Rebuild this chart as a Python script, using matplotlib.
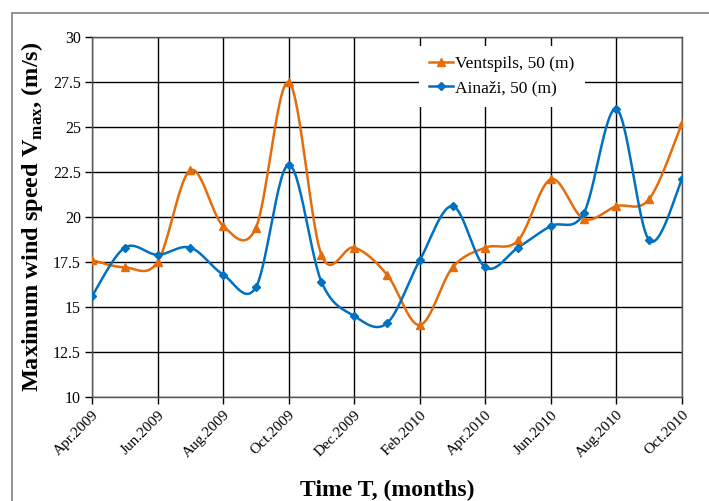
import numpy as np
import matplotlib.pyplot as plt
from matplotlib.patches import Rectangle

plt.rcParams['font.family'] = ['Liberation Serif', 'DejaVu Serif']
plt.rcParams['mathtext.fontset'] = 'custom'
plt.rcParams['mathtext.rm'] = 'Liberation Serif'
plt.rcParams['mathtext.bf'] = 'Liberation Serif:bold'

months = ['Apr.2009', 'May.2009', 'Jun.2009', 'Jul.2009', 'Aug.2009', 'Sep.2009',
          'Oct.2009', 'Nov.2009', 'Dec.2009', 'Jan.2010', 'Feb.2010', 'Mar.2010',
          'Apr.2010', 'May.2010', 'Jun.2010', 'Jul.2010', 'Aug.2010', 'Sep.2010',
          'Oct.2010']
ventspils = [17.6, 17.2, 17.5, 22.6, 19.5, 19.4, 27.5, 17.9, 18.3, 16.8,
             14.0, 17.2, 18.3, 18.7, 22.1, 19.9, 20.6, 21.0, 25.2]
ainazi = [15.6, 18.3, 17.9, 18.3, 16.8, 16.1, 22.9, 16.4, 14.5, 14.1,
          17.6, 20.6, 17.2, 18.3, 19.5, 20.2, 26.0, 18.7, 22.1]


def smooth(x, y, n=30):
    # excel style smoothed line: bezier segments with catmull-rom control points
    x = np.asarray(x, float)
    y = np.asarray(y, float)
    px = np.concatenate([[x[0]], x, [x[-1]]])
    py = np.concatenate([[y[0]], y, [y[-1]]])
    t = np.linspace(0, 1, n)[:, None]
    xs, ys = [], []
    for i in range(1, len(px) - 2):
        p0 = np.array([px[i], py[i]])
        p3 = np.array([px[i + 1], py[i + 1]])
        c1 = p0 + (p3 - np.array([px[i - 1], py[i - 1]])) / 6
        c2 = p3 - (np.array([px[i + 2], py[i + 2]]) - p0) / 6
        b = (1 - t) ** 3 * p0 + 3 * (1 - t) ** 2 * t * c1 + 3 * (1 - t) * t ** 2 * c2 + t ** 3 * p3
        xs.append(b[:, 0])
        ys.append(b[:, 1])
    return np.concatenate(xs), np.concatenate(ys)


fig = plt.figure(figsize=(7.09, 5.01), dpi=100)
fig.patches.append(Rectangle((12 / 709, -0.1), 1.2, 1 - 13 / 501 + 0.1, transform=fig.transFigure,
                             fill=False, edgecolor='#7f7f7f', linewidth=1.2))
ax = fig.add_axes([92 / 709, 1 - 397 / 501, 590 / 709, 360 / 501])

x = np.arange(len(months))
series = [(ventspils, '#E46C0A', '^', 6, 'Ventspils, 50 (m)'),
          (ainazi, '#0070C0', 'D', 4, 'Ainaži, 50 (m)')]
for vals, col, mk, ms, lab in series:
    sx, sy = smooth(x, vals)
    ax.plot(sx, sy, color=col, linewidth=1.8, zorder=3)
    ax.plot(x, vals, linestyle='none', marker=mk, markersize=ms, color=col, zorder=4)
    ax.plot([], [], color=col, linewidth=1.8, marker=mk, markersize=ms, label=lab)

ax.set_xlim(0, len(months) - 1)
ax.set_ylim(10, 30)
ax.set_xticks(x[::2])
ax.set_xticklabels(months[::2], rotation=45, ha='right', rotation_mode='anchor', fontsize=11)
ax.set_yticks(np.arange(10, 30.1, 2.5))
ax.set_yticklabels(['10', '12.5', '15', '17.5', '20', '22.5', '25', '27.5', '30'], fontsize=11.5)
ax.grid(True, color='black', linewidth=1)
ax.set_axisbelow(True)
ax.tick_params(direction='out', length=5, width=1, color='black', pad=3)
for s in ax.spines.values():
    s.set_color('#555555')
    s.set_linewidth(1)

ax.set_ylabel(r'Maximum wind speed V$_{\mathbf{max}}$, (m/s)', fontsize=17.5, fontweight='bold', labelpad=6)
ax.set_xlabel('Time T, (months)', fontsize=17, fontweight='bold', labelpad=14)

leg = ax.legend(loc='upper left', bbox_to_anchor=(318 / 590, 1.0), frameon=True, fancybox=False,
                edgecolor='none', framealpha=1, fontsize=12.5, handlelength=1.4, handletextpad=0.1,
                borderpad=0.6, labelspacing=0.45)
leg.set_zorder(5)

fig.savefig('out.png', dpi=100)
